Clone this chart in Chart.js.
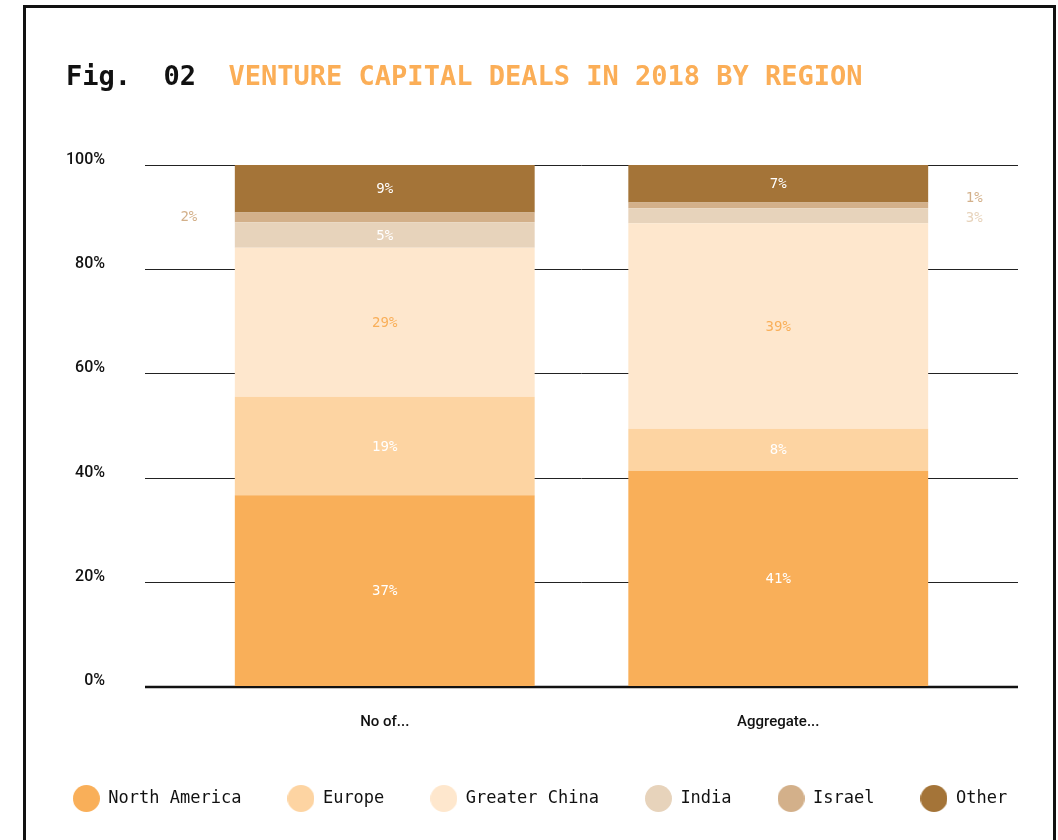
<!DOCTYPE html>
<html lang="en">
<head>
    <meta charset="UTF-8">
    <title>Venture capital deals in 2018 by region</title>
    <style>
        body {
            margin: 0;
            background: #fff;
            width: 1058px;
            height: 840px;
            overflow: hidden;
            position: relative;
        }
        .frame {
            position: absolute;
            left: 23px;
            top: 5px;
            width: 1027px;
            height: 900px;
            border: 3px solid #111;
        }
        .title {
            position: absolute;
            left: 66px;
            top: 61px;
            font-family: "DejaVu Sans Mono", monospace;
            font-weight: bold;
            font-size: 27px;
            line-height: 30px;
            white-space: pre;
            color: #111;
        }
        .title span {
            color: #fbae57;
        }
        .chart-box {
            position: absolute;
            left: 0;
            top: 0;
            width: 1058px;
            height: 840px;
        }
    </style>
</head>
<body>
    <div class="frame"></div>
    <div class="chart-box">
        <canvas id="vcChart"></canvas>
    </div>
    <div class="title">Fig.  02  <span>VENTURE CAPITAL DEALS IN 2018 BY REGION</span></div>

<script src="https://cdn.jsdelivr.net/npm/chart.js"></script>
<script>
    // categories (x axis)
    const categories = ['No of...', 'Aggregate...'];

    // region names + colours
    const regions = ['North America', 'Europe', 'Greater China', 'India', 'Israel', 'Other'];
    const regionColors = ['#f9af59', '#fdd4a2', '#fee7cd', '#e7d3bb', '#d3b08a', '#a47438'];

    // share of each region, % (deals count, deal value)
    const northAmerica = [36.6, 41.3];
    const europe = [18.9, 8.1];
    const greaterChina = [28.6, 39.4];
    const india = [4.9, 2.9];
    const israel = [1.9, 1.1];
    const other = [9.1, 7.2];

    // y axis ticks
    const yTicks = [0, 20, 40, 60, 80, 100];

    const seriesValues = [northAmerica, europe, greaterChina, india, israel, other];

    // circle images for the legend
    function circleImage(color) {
        const c = document.createElement('canvas');
        c.width = 27;
        c.height = 27;
        const g = c.getContext('2d');
        g.fillStyle = color;
        g.beginPath();
        g.arc(13.5, 13.5, 13.5, 0, Math.PI * 2);
        g.fill();
        return c;
    }

    // horizontal rules, a bit wider than the plot area
    const rulesPlugin = {
        id: 'rules',
        beforeDatasetsDraw(chart) {
            const ctx = chart.ctx;
            const y = chart.scales.y;
            const area = chart.chartArea;
            ctx.save();
            yTicks.forEach(v => {
                const py = Math.round(y.getPixelForValue(v));
                ctx.beginPath();
                ctx.lineWidth = v === 0 ? 2.5 : 1;
                ctx.strokeStyle = v === 0 ? '#111' : '#222';
                ctx.moveTo(area.left - 43, py + (v === 0 ? 1 : 0.5));
                ctx.lineTo(area.right + 43, py + (v === 0 ? 1 : 0.5));
                ctx.stroke();
            });
            ctx.restore();
        }
    };

    // percent labels: inside the segment, or beside the bar when the segment is thin
    const valueLabels = {
        id: 'valueLabels',
        afterDatasetsDraw(chart) {
            const ctx = chart.ctx;
            ctx.save();
            ctx.font = '14px "DejaVu Sans Mono", monospace';
            ctx.textAlign = 'center';
            ctx.textBaseline = 'middle';
            const outside = categories.map(() => []);
            chart.data.datasets.forEach((ds, i) => {
                const meta = chart.getDatasetMeta(i);
                meta.data.forEach((bar, j) => {
                    const p = bar.getProps(['x', 'y', 'base', 'width'], true);
                    const v = ds.data[j];
                    const txt = Math.round(v) + '%';
                    const cy = (p.y + p.base) / 2;
                    if (v >= 3.5) {
                        ctx.fillStyle = i === 2 ? '#f9af59' : '#ffffff';
                        ctx.fillText(txt, p.x, cy + 1);
                    } else {
                        const side = j === 0 ? -1 : 1;
                        outside[j].push({ txt, cy, x: p.x + side * (p.width / 2 + 46), color: ds.backgroundColor });
                    }
                });
            });
            outside.forEach(list => {
                list.sort((a, b) => a.cy - b.cy);
                for (let k = 1; k < list.length; k++) {
                    const gap = list[k].cy - list[k - 1].cy;
                    if (gap < 20) {
                        const mid = (list[k].cy + list[k - 1].cy) / 2;
                        list[k - 1].cy = mid - 12;
                        list[k].cy = mid + 8;
                    }
                }
                list.forEach(l => {
                    ctx.fillStyle = l.color;
                    ctx.fillText(l.txt, l.x, l.cy);
                });
            });
            ctx.restore();
        }
    };

    const ctx = document.getElementById('vcChart').getContext('2d');
    const vcChart = new Chart(ctx, {
        type: 'bar',
        data: {
            labels: categories,
            datasets: regions.map((name, i) => ({
                label: name,
                data: seriesValues[i],
                backgroundColor: regionColors[i],
                borderWidth: 0,
                categoryPercentage: 1,
                barPercentage: 0.762
            }))
        },
        options: {
            responsive: true,
            maintainAspectRatio: false,
            animation: false,
            layout: {
                padding: { top: 165, left: 22, right: 0, bottom: 23 }
            },
            scales: {
                x: {
                    stacked: true,
                    grid: { display: false },
                    border: { display: false },
                    ticks: {
                        padding: 19,
                        color: '#111',
                        font: { family: 'Roboto', size: 15, weight: '500' }
                    },
                    afterFit(scale) { scale.height = 58; }
                },
                y: {
                    stacked: true,
                    min: 0,
                    max: 100,
                    grid: { display: false, drawTicks: false },
                    border: { display: false },
                    ticks: {
                        stepSize: 20,
                        padding: 83,
                        labelOffset: -5,
                        color: '#111',
                        font: { family: 'Roboto', size: 16, weight: '500' },
                        callback: v => v + '%'
                    },
                    afterFit(scale) { scale.width = 166; }
                },
                yRight: {
                    position: 'right',
                    grid: { display: false, drawTicks: false },
                    border: { display: false },
                    ticks: { display: false },
                    afterFit(scale) { scale.width = 83; }
                }
            },
            plugins: {
                tooltip: { enabled: false },
                legend: {
                    position: 'bottom',
                    labels: {
                        usePointStyle: true,
                        pointStyleWidth: 27,
                        boxHeight: 16,
                        padding: 46,
                        color: '#111',
                        font: { family: '"DejaVu Sans Mono"', size: 17 },
                        generateLabels(chart) {
                            const items = Chart.defaults.plugins.legend.labels.generateLabels(chart);
                            items.forEach(it => {
                                it.pointStyle = circleImage(regionColors[it.datasetIndex]);
                                it.lineWidth = 0;
                            });
                            return items;
                        }
                    }
                }
            }
        },
        plugins: [rulesPlugin, valueLabels]
    });
</script>
</body>
</html>
